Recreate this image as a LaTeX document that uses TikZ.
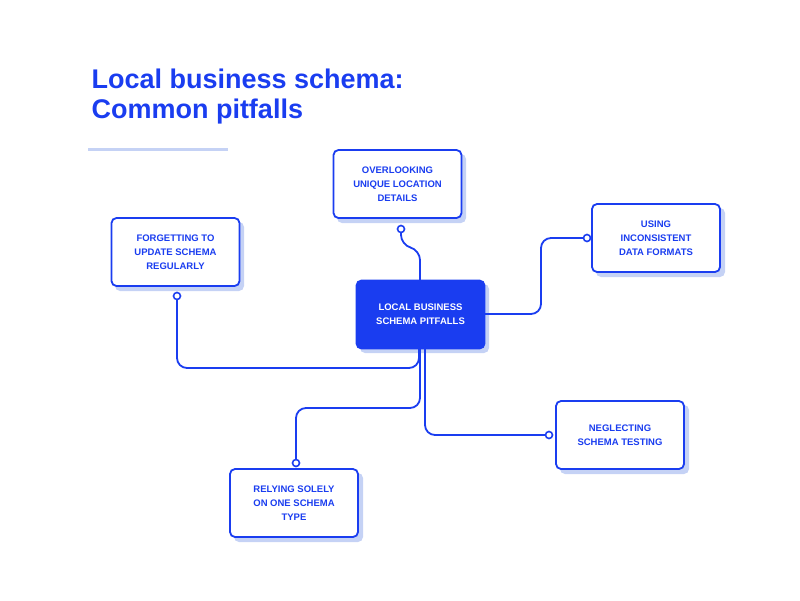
\documentclass[tikz,border=0pt]{standalone}
\usepackage{fontspec}
\setmainfont{Liberation Sans}
\definecolor{bl}{HTML}{1A3DF0}
\definecolor{sh}{HTML}{C5D2F5}
\begin{document}
\begin{tikzpicture}[x=1pt,y=-1pt,
  box/.style={draw=bl,line width=1.8pt,rounded corners=5pt,fill=white,minimum width=128pt,minimum height=68pt,align=center,text=bl,font=\bfseries\fontsize{9.5}{14}\selectfont},
  shad/.style={fill=sh,rounded corners=5pt},
  con/.style={draw=bl,line width=1.8pt,rounded corners=10pt},
  dot/.style={circle,draw=bl,fill=white,line width=1.6pt,inner sep=0pt,minimum size=7pt}]
\useasboundingbox (0,0) rectangle (800,600);
\node[anchor=base west,text=bl,font=\bfseries\fontsize{27}{32}\selectfont] (t1) at (88,88) {Local business schema:};
\node[anchor=base west,text=bl,font=\bfseries\fontsize{27}{32}\selectfont] (t2) at (88,118) {Common pitfalls};
\draw[sh,line width=3pt] (88,149) -- (228,149);
% shadows
\foreach \x/\y in {333/150,111/218,592/204,556/401,230/469}{\fill[shad] (\x+4,\y+4) rectangle ++(129,69);}
\fill[shad] (360,284) rectangle (489,353);
% connectors
\coordinate (cOv) at (401,229);
\coordinate (cUs) at (587,238);
\coordinate (cFo) at (177,296);
\coordinate (cRe) at (296,463);
\coordinate (cNe) at (549,435);
\draw[con] (cOv) -- (401,245) -- (420,250) -- (420,282);
\draw[con] (483,314) -- (541,314) -- (541,238) -- (cUs);
\draw[con] (cFo) -- (177,368) -- (419,368) -- (419,347);
\draw[con] (cRe) -- (296,408) -- (420,408) -- (420,347);
\draw[con] (425,347) -- (425,435) -- (cNe);
\node[box] (ov) at (397.5,184) {OVERLOOKING\\UNIQUE LOCATION\\DETAILS};
\node[box] (fo) at (175.5,252) {FORGETTING TO\\UPDATE SCHEMA\\REGULARLY};
\node[box] (us) at (656,238) {USING\\INCONSISTENT\\DATA FORMATS};
\node[box] (ne) at (620,435) {NEGLECTING\\SCHEMA TESTING};
\node[box] (re) at (294,503) {RELYING SOLELY\\ON ONE SCHEMA\\TYPE};
\node[box,fill=bl,text=white] (ce) at (420.5,314.5) {LOCAL BUSINESS\\SCHEMA PITFALLS};
\foreach \c in {cOv,cUs,cFo,cRe,cNe}{\node[dot] at (\c) {};}
\end{tikzpicture}
\end{document}
